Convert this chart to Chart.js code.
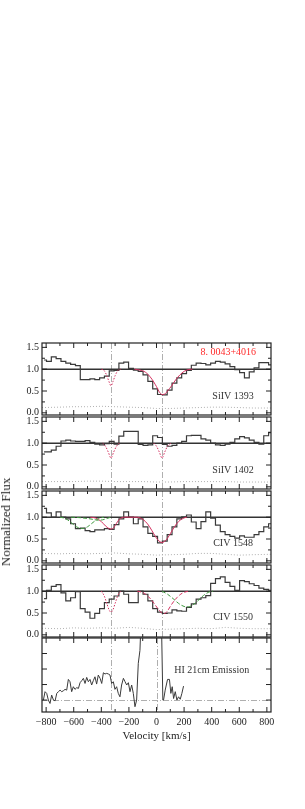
<!DOCTYPE html>
<html>
<head>
<meta charset="utf-8">
<script src="https://cdn.jsdelivr.net/npm/chart.js@4.4.0/dist/chart.umd.min.js"></script>
<style>
  body { margin: 0; background: #fff; }
  #wrap { position: relative; width: 305px; height: 809px; }
  .pan { position: absolute; left: 0; width: 305px; }
  #ylab { position: absolute; left: 6px; top: 522px; transform: translate(-50%, -50%) rotate(-90deg);
          font: 13px "Liberation Serif"; white-space: nowrap; color: #222; }
</style>
</head>
<body>
<div id="wrap">
  <div class="pan" style="top:334px;height:90px"><canvas id="p1" width="305" height="90"></canvas></div>
  <div class="pan" style="top:408px;height:90px"><canvas id="p2" width="305" height="90"></canvas></div>
  <div class="pan" style="top:482px;height:90px"><canvas id="p3" width="305" height="90"></canvas></div>
  <div class="pan" style="top:556px;height:90px"><canvas id="p4" width="305" height="90"></canvas></div>
  <div class="pan" style="top:630px;height:122px"><canvas id="p5" width="305" height="122"></canvas></div>
  <div id="ylab">Normalized Flux</div>
</div>
<script>
// bin centres of the rebinned spectra (km/s)
const vel = [-815,-780,-745,-710,-675,-640,-605,-570,-535,-500,-465,-430,-395,-360,-325,-290,
  -255,-220,-185,-150,-115,-80,-45,-10,25,60,95,130,165,200,235,270,
  305,340,375,410,445,480,515,550,585,620,655,690,725,760,795,830];

const siiv1393 = [1.21,1.18,1.28,1.24,1.18,1.14,1.11,1.08,0.76,0.76,0.78,0.76,0.80,0.84,0.96,0.97,
  1.14,1.16,1.02,0.98,0.95,0.87,0.72,0.55,0.42,0.41,0.52,0.68,0.80,0.90,0.97,1.09,
  1.14,1.13,1.10,1.14,1.18,1.16,1.12,1.06,0.99,0.92,0.80,0.94,1.03,1.15,1.15,1.10];
const siiv1402 = [0.80,0.80,0.84,0.93,1.05,1.07,1.05,1.04,1.04,1.06,1.02,0.98,0.96,0.99,1.04,0.98,
  1.16,1.27,1.27,1.27,0.97,0.95,0.96,1.17,1.13,0.97,0.93,0.95,1.00,1.04,1.17,1.18,
  1.18,1.10,1.07,1.00,0.96,0.95,0.98,1.02,1.10,1.15,1.12,1.07,1.02,0.98,1.17,1.24];
const civ1548 = [1.20,1.10,1.00,1.12,1.00,0.96,0.85,0.74,0.75,0.69,0.67,0.71,0.71,0.74,0.72,0.83,
  0.96,1.12,1.00,0.85,0.96,0.78,0.63,0.56,0.41,0.45,0.60,0.78,0.96,1.01,1.05,0.89,
  0.74,0.90,1.12,0.98,0.82,0.67,0.60,0.56,0.52,0.57,0.54,0.54,0.60,0.67,0.78,0.85];
const civ1550 = [0.83,1.02,1.11,1.15,0.96,0.78,0.85,0.99,0.60,0.52,0.38,0.49,0.60,0.74,0.82,0.89,
  1.00,0.93,0.74,0.74,1.00,0.93,0.78,0.60,0.52,0.49,0.50,0.57,0.55,0.54,0.63,0.71,
  0.82,0.85,0.90,1.18,1.29,1.33,1.20,1.11,1.02,1.24,1.22,1.17,1.13,1.07,1.04,1.02];

// error spectra
const errVel = [-830,-700,-600,-500,-400,-300,-200,-100,0,100,200,300,400,500,600,700,830];
const err1393 = [0.12,0.13,0.14,0.14,0.15,0.14,0.13,0.12,0.10,0.10,0.11,0.12,0.13,0.13,0.12,0.11,0.11];
const err1402 = [0.12,0.12,0.12,0.13,0.13,0.12,0.12,0.12,0.11,0.11,0.12,0.12,0.12,0.12,0.11,0.11,0.11];
const err1548 = [0.17,0.16,0.17,0.16,0.17,0.18,0.16,0.15,0.13,0.14,0.15,0.17,0.17,0.15,0.13,0.14,0.15];
const err1550 = [0.15,0.14,0.16,0.15,0.16,0.15,0.17,0.15,0.12,0.13,0.14,0.15,0.14,0.17,0.15,0.14,0.14];

// model components
const dipAV = [-400,-380,-360,-345,-330,-315,-300,-280,-260];
const dip1393F = [1.00,0.97,0.85,0.72,0.62,0.72,0.85,0.97,1.00];
const fit1393V = [-160,-120,-80,-40,0,20,40,60,80,110,140,170,200,230,260];
const fit1393F = [1.00,0.98,0.93,0.80,0.60,0.48,0.42,0.43,0.50,0.62,0.76,0.87,0.95,0.99,1.00];
const dip1402aV = [-390,-370,-350,-330,-310,-290,-270];
const dip1402aF = [1.00,0.93,0.80,0.66,0.80,0.93,1.00];
const dip1402bV = [-20,0,20,40,60,80,105];
const dip1402bF = [1.00,0.93,0.80,0.66,0.80,0.93,1.00];
const fit1548V = [-480,-440,-400,-370,-345,-330,-310,-290,-270,-250,-230,-140,-110,-80,-50,-20,10,40,70,100,130,160,190,220];
const fit1548F = [1.00,0.98,0.90,0.80,0.74,0.73,0.76,0.86,0.95,0.99,1.00,1.00,0.97,0.90,0.78,0.62,0.48,0.42,0.48,0.62,0.78,0.90,0.97,1.00];
const comp1548aV = [-700,-660,-620,-580,-540,-500,-460,-420,-380];
const comp1548aF = [1.00,0.97,0.88,0.78,0.74,0.78,0.88,0.97,1.00];
const comp1548bV = [-620,-560,-500,-460,-420,-390,-360,-330];
const comp1548bF = [1.00,0.99,0.97,0.95,0.93,0.94,0.97,1.00];
const dip1550F = [1.00,0.90,0.72,0.58,0.52,0.58,0.72,0.90,1.00];
const red1550V = [-140,-100,-60,-20,10,40,60,80,110,150,190,230];
const red1550F = [1.00,0.97,0.88,0.73,0.60,0.50,0.49,0.55,0.70,0.86,0.96,1.00];
const grn1550V = [40,80,120,160,200,230,260,300,340,380,410];
const grn1550F = [1.00,0.93,0.83,0.72,0.65,0.64,0.68,0.78,0.90,0.98,1.00];

// HI 21cm emission (arbitrary units, baseline 0)
const hiVel = [-820,-808,-796,-784,-772,-760,-747,-735,-723,-711,-699,-687,-675,-663,-651,-639,
  -627,-615,-603,-591,-578,-566,-554,-542,-530,-518,-506,-494,-482,-470,-458,-446,
  -434,-422,-409,-397,-385,-373,-361,-349,-337,-325,-313,-301,-289,-277,-265,-253,
  -240,-228,-216,-204,-192,-180,-168,-156,-144,-132,-120,-100,-50,0,30,46,
  51,63,80,94,104,114,124,136,148,160,172,184,196];
const hiFlux = [0.00,0.54,0.43,0.00,-0.22,0.32,0.00,-0.05,0.43,0.54,0.64,0.54,0.60,0.69,0.64,1.33,
  1.18,0.54,0.86,0.69,0.80,0.75,1.12,1.25,1.40,1.07,1.46,1.18,1.33,0.97,1.25,1.50,
  1.03,1.61,1.40,1.07,1.76,1.68,1.72,1.68,1.61,1.07,1.18,0.69,0.86,0.43,0.21,0.97,
  1.40,1.18,0.97,1.12,0.54,0.97,0.43,-0.43,0.00,2.37,3.20,8.0,12.0,12.0,8.0,0.00,
  0.00,0.64,1.33,1.33,0.43,0.86,0.10,0.54,0.00,0.21,0.05,0.43,0.90];
const hiTicks = [0,1,2,3];

const xTicks = [-800,-600,-400,-200,0,200,400,600,800];
const fluxTicks = [0,0.5,1.0,1.5];
const fluxMinor = [0.25,0.75,1.25];
const compVel = [-330,40];

const pts = (xs, ys) => xs.map((x, i) => ({x: x, y: ys[i]}));
const SERIF = '"Liberation Serif", "DejaVu Serif", serif';
const RED = '#d4305f', GREEN = '#3f9a3f', DATA = '#3a3a3a';

const deco = {
  id: 'deco',
  beforeDatasetsDraw(chart, args, o) {
    const {ctx, chartArea: a, scales: {x, y}} = chart;
    ctx.save();
    ctx.strokeStyle = '#9a9a9a';
    ctx.lineWidth = 0.8;
    ctx.setLineDash([6, 2, 1, 2]);
    o.vlines.forEach(v => {
      const px = Math.round(x.getPixelForValue(v)) + 0.5;
      ctx.beginPath(); ctx.moveTo(px, a.top); ctx.lineTo(px, a.bottom); ctx.stroke();
    });
    if (o.base !== undefined) {
      const py = Math.round(y.getPixelForValue(o.base)) + 0.5;
      ctx.beginPath(); ctx.moveTo(a.left, py); ctx.lineTo(a.right, py); ctx.stroke();
    }
    ctx.setLineDash([]);
    if (o.cont !== undefined) {
      ctx.strokeStyle = '#333';
      ctx.lineWidth = 1.4;
      const py = y.getPixelForValue(o.cont);
      ctx.beginPath(); ctx.moveTo(a.left, py); ctx.lineTo(a.right, py); ctx.stroke();
    }
    ctx.restore();
  },
  afterDraw(chart, args, o) {
    const {ctx, chartArea: a, scales: {x, y}} = chart;
    ctx.save();
    ctx.strokeStyle = '#222';
    ctx.lineWidth = 1.2;
    ctx.strokeRect(a.left, a.top, a.right - a.left, a.bottom - a.top);
    ctx.lineWidth = 1;
    for (let v = -800; v <= 800; v += 100) {
      const px = x.getPixelForValue(v);
      const len = v % 200 === 0 ? 5 : 3;
      ctx.beginPath();
      ctx.moveTo(px, a.bottom); ctx.lineTo(px, a.bottom - len);
      ctx.moveTo(px, a.top); ctx.lineTo(px, a.top + len);
      ctx.stroke();
    }
    const yt = (vals, len) => vals.forEach(v => {
      const py = y.getPixelForValue(v);
      ctx.beginPath();
      ctx.moveTo(a.left, py); ctx.lineTo(a.left + len, py);
      ctx.moveTo(a.right, py); ctx.lineTo(a.right - len, py);
      ctx.stroke();
    });
    yt(o.yMajor, 5);
    yt(o.yMinor || [], 3);
    o.texts.forEach(t => {
      ctx.fillStyle = t.color || '#333';
      ctx.font = '10px ' + SERIF;
      ctx.textAlign = 'center';
      ctx.textBaseline = 'middle';
      ctx.fillText(t.t, x.getPixelForValue(t.v), y.getPixelForValue(t.f));
    });
    ctx.restore();
  }
};

function makePanel(id, datasets, decoOpts, yOpt, bottom) {
  const xScale = {
    type: 'linear', min: -830, max: 830, display: !!bottom,
    grid: {display: false, drawTicks: false},
    border: {display: false},
    afterBuildTicks: s => { s.ticks = xTicks.map(v => ({value: v})); },
    ticks: {
      padding: 4, color: '#222', font: {family: SERIF, size: 10},
      callback: v => String(v).replace('-', '\u2212')
    },
    title: {display: !!bottom, text: 'Velocity [km/s]', color: '#222',
            font: {family: SERIF, size: 11}, padding: {top: 0, bottom: 9}},
    afterFit: s => { if (bottom) s.height = 40; }
  };
  const yScale = {
    type: 'linear', min: yOpt.min, max: yOpt.max,
    grid: {display: false, drawTicks: false},
    border: {display: false},
    afterBuildTicks: s => { s.ticks = yOpt.ticks.map(v => ({value: v})); },
    ticks: {
      display: yOpt.labels, padding: 3, color: '#222', font: {family: SERIF, size: 10},
      callback: v => v.toFixed(1)
    },
    afterFit: s => { s.width = 42; }
  };
  return new Chart(document.getElementById(id), {
    type: 'line',
    data: {datasets: datasets},
    options: {
      responsive: false, animation: false, devicePixelRatio: 1,
      layout: {padding: {top: 8, bottom: bottom ? 0 : 8, left: 0, right: 34}},
      elements: {point: {radius: 0}, line: {tension: 0}},
      scales: {x: xScale, y: yScale},
      plugins: {legend: {display: false}, tooltip: {enabled: false}, deco: decoOpts}
    },
    plugins: [deco]
  });
}

const spec = (v, f) => ({data: pts(v, f), borderColor: DATA, borderWidth: 1.2, stepped: 'middle'});
const err = f => ({data: pts(errVel, f), borderColor: '#b0b0b0', borderWidth: 1, borderDash: [1, 2]});
const model = (v, f, color, dash) => ({data: pts(v, f), borderColor: color, borderWidth: 1, borderDash: dash, cubicInterpolationMode: 'monotone'});
const fluxY = {min: -0.05, max: 1.6, ticks: fluxTicks, labels: true};

makePanel('p1', [
  err(err1393),
  model(dipAV, dip1393F, RED, [1.5, 1.5]),
  model(fit1393V, fit1393F, RED, []),
  spec(vel, siiv1393)
], {vlines: compVel, cont: 1.0, yMajor: fluxTicks, yMinor: fluxMinor, texts: [
  {t: '8. 0043+4016', v: 520, f: 1.39, color: '#ff2a2a'},
  {t: 'SiIV 1393', v: 555, f: 0.38}
]}, fluxY);

makePanel('p2', [
  err(err1402),
  model(dip1402aV, dip1402aF, RED, [1.5, 1.5]),
  model(dip1402bV, dip1402bF, RED, [1.5, 1.5]),
  spec(vel, siiv1402)
], {vlines: compVel, cont: 1.0, yMajor: fluxTicks, yMinor: fluxMinor, texts: [
  {t: 'SiIV 1402', v: 555, f: 0.38}
]}, fluxY);

makePanel('p3', [
  err(err1548),
  model(comp1548aV, comp1548aF, GREEN, [4, 2]),
  model(comp1548bV, comp1548bF, GREEN, [4, 2]),
  model(fit1548V, fit1548F, RED, []),
  spec(vel, civ1548)
], {vlines: compVel, cont: 1.0, yMajor: fluxTicks, yMinor: fluxMinor, texts: [
  {t: 'CIV 1548', v: 555, f: 0.40}
]}, fluxY);

makePanel('p4', [
  err(err1550),
  model(dipAV, dip1550F, RED, [1.5, 1.5]),
  model(red1550V, red1550F, RED, [4, 2]),
  model(grn1550V, grn1550F, GREEN, [4, 2]),
  spec(vel, civ1550)
], {vlines: compVel, cont: 1.0, yMajor: fluxTicks, yMinor: fluxMinor, texts: [
  {t: 'CIV 1550', v: 555, f: 0.40}
]}, fluxY);

makePanel('p5', [
  {data: pts(hiVel, hiFlux), borderColor: DATA, borderWidth: 1}
], {vlines: [-330, 5], base: 0, yMajor: hiTicks, texts: [
  {t: 'HI 21cm Emission', v: 400, f: 1.94}
]}, {min: -0.77, max: 4.0, ticks: hiTicks, labels: false}, true);
</script>
</body>
</html>
